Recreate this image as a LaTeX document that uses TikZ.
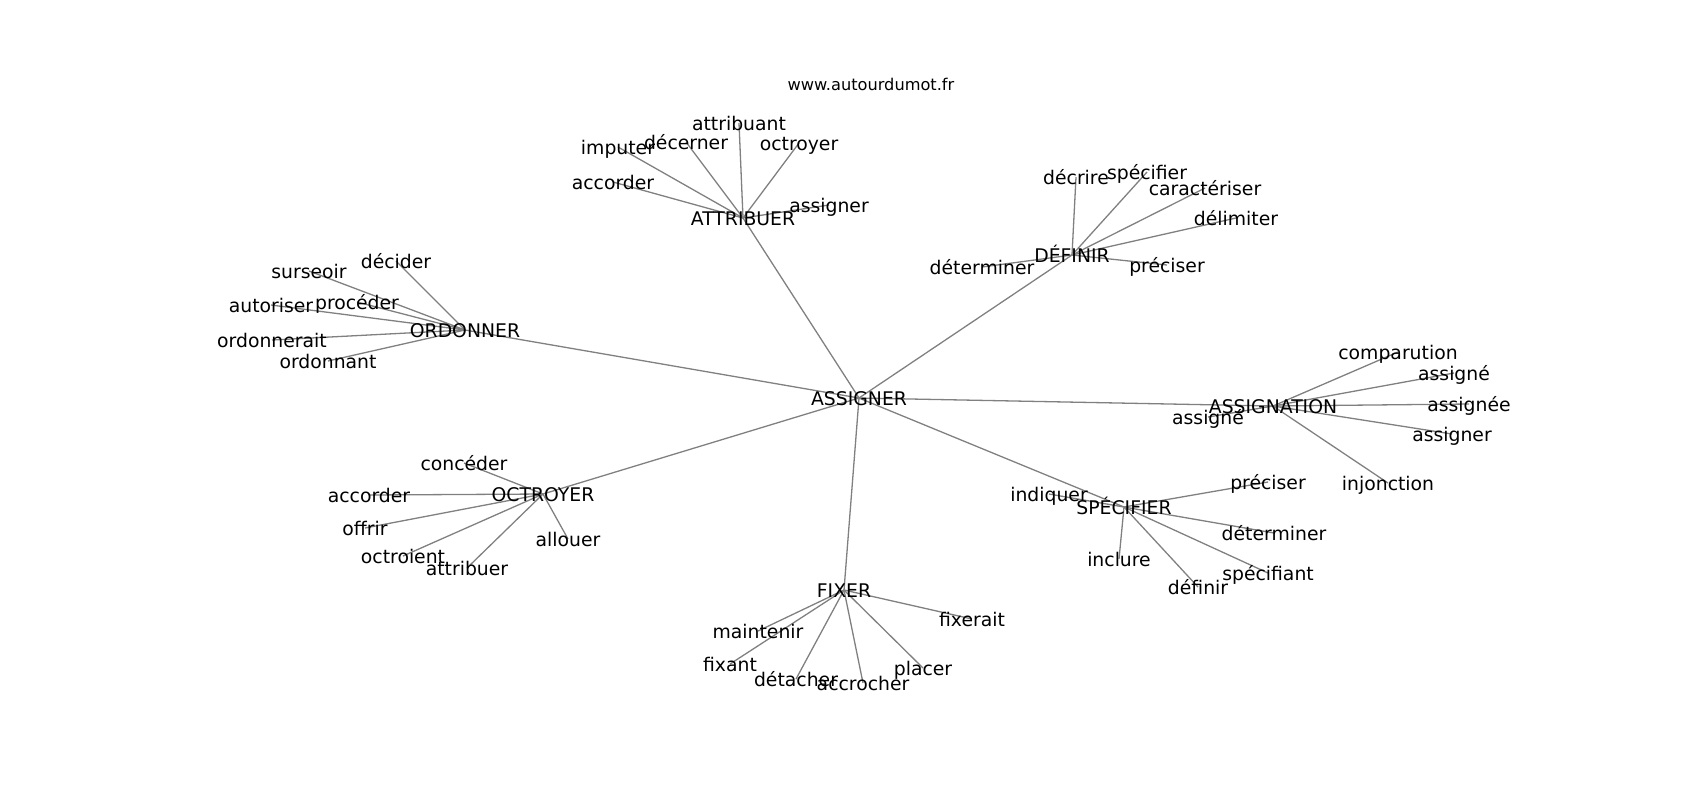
\documentclass[tikz,border=0pt]{standalone}
\usepackage{fontspec}
\setmainfont{DejaVu Sans}
\usetikzlibrary{backgrounds}
\tikzset{word/.style={inner sep=0pt,text height=0.95em,text depth=0.16em,font=\fontsize{9.4}{11}\selectfont}}
\tikzset{link/.style={draw=gray,line width=0.65pt}}

\begin{document}
\begin{tikzpicture}[x=0.5pt,y=-0.5pt]
  \useasboundingbox (0,0) rectangle (1700,800);
  \node[inner sep=0pt,font=\fontsize{8.1}{10}\selectfont] (title) at (871,84) {www.autourdumot.fr};

  % centre word
  \node[word] (c0) at (859,398) {ASSIGNER};

  % attribuer group
  \node[word] (c1) at (743,218) {ATTRIBUER};
  \node[word] (c1a) at (618,147) {imputer};
  \node[word] (c1b) at (686,142) {décerner};
  \node[word] (c1c) at (739,123) {attribuant};
  \node[word] (c1d) at (799,143) {octroyer};
  \node[word] (c1e) at (613,182) {accorder};
  \node[word] (c1f) at (829,205) {assigner};

  % definir group
  \node[word] (c2) at (1072,255) {DÉFINIR};
  \node[word] (c2a) at (1076,177) {décrire};
  \node[word] (c2b) at (1147,172) {spécifier};
  \node[word] (c2c) at (1205,188) {caractériser};
  \node[word] (c2d) at (1236,218) {délimiter};
  \node[word] (c2e) at (982,267) {déterminer};
  \node[word] (c2f) at (1167,265) {préciser};

  % ordonner group
  \node[word] (c3) at (465,330) {ORDONNER};
  \node[word] (c3a) at (396,261) {décider};
  \node[word] (c3b) at (309,271) {surseoir};
  \node[word] (c3c) at (271,305) {autoriser};
  \node[word] (c3d) at (357,302) {procéder};
  \node[word] (c3e) at (272,340) {ordonnerait};
  \node[word] (c3f) at (328,361) {ordonnant};

  % assignation group
  \node[word] (c4) at (1273,406) {ASSIGNATION};
  \node[word] (c4a) at (1398,352) {comparution};
  \node[word] (c4b) at (1454,373) {assigné};
  \node[word] (c4c) at (1469,404) {assignée};
  \node[word] (c4d) at (1452,434) {assigner};
  \node[word] (c4e) at (1388,483) {injonction};
  \node[word] (c4f) at (1208,417) {assigné};

  % octroyer group
  \node[word] (c5) at (543,494) {OCTROYER};
  \node[word] (c5a) at (464,463) {concéder};
  \node[word] (c5b) at (369,495) {accorder};
  \node[word] (c5c) at (365,528) {offrir};
  \node[word] (c5d) at (403,556) {octroient};
  \node[word] (c5e) at (467,568) {attribuer};
  \node[word] (c5f) at (568,539) {allouer};

  % specifier group
  \node[word] (c6) at (1124,507) {SPÉCIFIER};
  \node[word] (c6a) at (1049,494) {indiquer};
  \node[word] (c6b) at (1268,482) {préciser};
  \node[word] (c6c) at (1274,533) {déterminer};
  \node[word] (c6d) at (1268,573) {spécifiant};
  \node[word] (c6e) at (1198,587) {définir};
  \node[word] (c6f) at (1119,559) {inclure};

  % fixer group
  \node[word] (c7) at (844,590) {FIXER};
  \node[word] (c7a) at (758,631) {maintenir};
  \node[word] (c7b) at (730,664) {fixant};
  \node[word] (c7c) at (796,679) {détacher};
  \node[word] (c7d) at (863,683) {accrocher};
  \node[word] (c7e) at (923,668) {placer};
  \node[word] (c7f) at (972,619) {fixerait};

  % links, behind the words
  \begin{scope}[on background layer]
    \draw[link] (c0.center) -- (c1.center);
    \draw[link] (c0.center) -- (c2.center);
    \draw[link] (c0.center) -- (c3.center);
    \draw[link] (c0.center) -- (c4.center);
    \draw[link] (c0.center) -- (c5.center);
    \draw[link] (c0.center) -- (c6.center);
    \draw[link] (c0.center) -- (c7.center);

    \draw[link] (c1.center) -- (c1a.center);
    \draw[link] (c1.center) -- (c1b.center);
    \draw[link] (c1.center) -- (c1c.center);
    \draw[link] (c1.center) -- (c1d.center);
    \draw[link] (c1.center) -- (c1e.center);
    \draw[link] (c1.center) -- (c1f.center);

    \draw[link] (c2.center) -- (c2a.center);
    \draw[link] (c2.center) -- (c2b.center);
    \draw[link] (c2.center) -- (c2c.center);
    \draw[link] (c2.center) -- (c2d.center);
    \draw[link] (c2.center) -- (c2e.center);
    \draw[link] (c2.center) -- (c2f.center);

    \draw[link] (c3.center) -- (c3a.center);
    \draw[link] (c3.center) -- (c3b.center);
    \draw[link] (c3.center) -- (c3c.center);
    \draw[link] (c3.center) -- (c3d.center);
    \draw[link] (c3.center) -- (c3e.center);
    \draw[link] (c3.center) -- (c3f.center);

    \draw[link] (c4.center) -- (c4a.center);
    \draw[link] (c4.center) -- (c4b.center);
    \draw[link] (c4.center) -- (c4c.center);
    \draw[link] (c4.center) -- (c4d.center);
    \draw[link] (c4.center) -- (c4e.center);
    \draw[link] (c4.center) -- (c4f.center);

    \draw[link] (c5.center) -- (c5a.center);
    \draw[link] (c5.center) -- (c5b.center);
    \draw[link] (c5.center) -- (c5c.center);
    \draw[link] (c5.center) -- (c5d.center);
    \draw[link] (c5.center) -- (c5e.center);
    \draw[link] (c5.center) -- (c5f.center);

    \draw[link] (c6.center) -- (c6a.center);
    \draw[link] (c6.center) -- (c6b.center);
    \draw[link] (c6.center) -- (c6c.center);
    \draw[link] (c6.center) -- (c6d.center);
    \draw[link] (c6.center) -- (c6e.center);
    \draw[link] (c6.center) -- (c6f.center);

    \draw[link] (c7.center) -- (c7a.center);
    \draw[link] (c7.center) -- (c7b.center);
    \draw[link] (c7.center) -- (c7c.center);
    \draw[link] (c7.center) -- (c7d.center);
    \draw[link] (c7.center) -- (c7e.center);
    \draw[link] (c7.center) -- (c7f.center);
  \end{scope}
\end{tikzpicture}
\end{document}
